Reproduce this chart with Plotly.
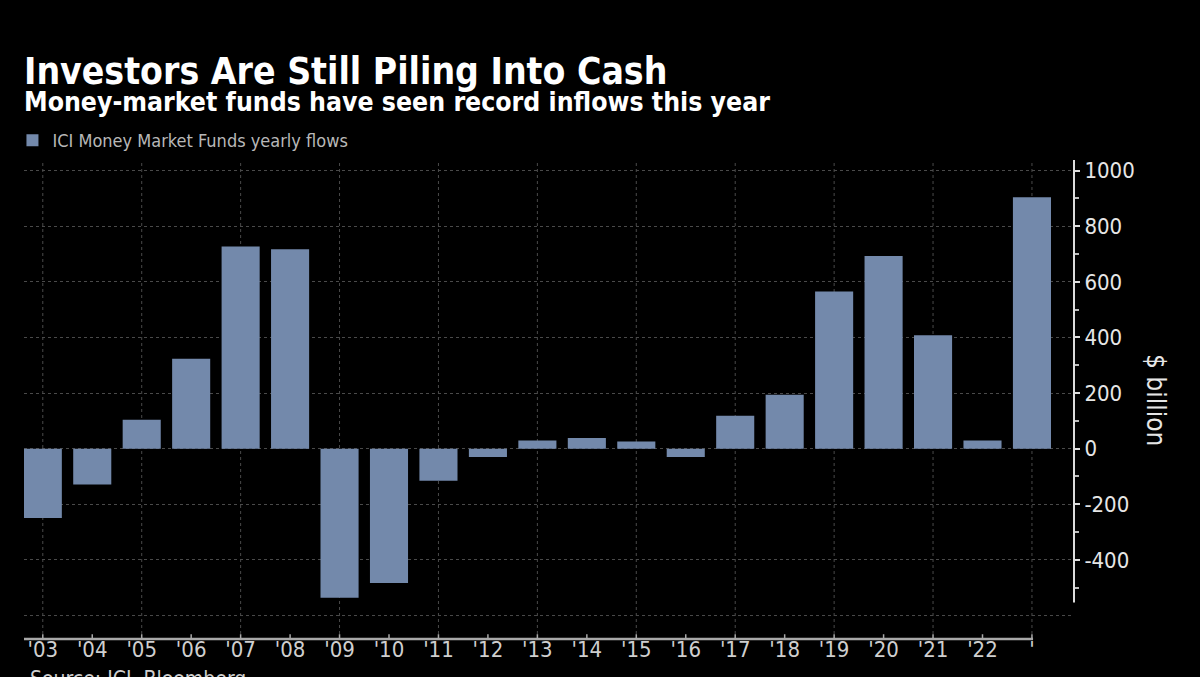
import plotly.graph_objects as go

years = list(range(2003, 2024))
tick_labels = ["'03", "'04", "'05", "'06", "'07", "'08", "'09", "'10", "'11", "'12",
               "'13", "'14", "'15", "'16", "'17", "'18", "'19", "'20", "'21", "'22", "'"]
flows = [-249, -129, 104, 323, 727, 717, -536, -483, -115, -30,
         29, 38, 26, -30, 118, 194, 565, 693, 408, 29, 904]
y_ticks = [-400, -200, 0, 200, 400, 600, 800, 1000]
y_tick_text = ["-400", "-200", "0", "200", "400", "600", "800", "1000"]
y_minor = [-500, -300, -100, 100, 300, 500, 700, 900]
grid_years = years[::2]

FONT = "DejaVu Sans Condensed, Liberation Sans Narrow, Arial Narrow, sans-serif"
BAR = "#7389ab"
GRID = "#4a4a4a"

fig = go.Figure()
fig.add_trace(go.Bar(
    x=years, y=flows, width=0.77, marker=dict(color=BAR, line=dict(width=0)),
    name="ICI Money Market Funds yearly flows", showlegend=True,
))

shapes = []
for yr in grid_years:
    shapes.append(dict(type="line", xref="x", yref="paper", x0=yr, x1=yr, y0=0, y1=1,
                       line=dict(color=GRID, width=1, dash="dot"), layer="below"))
shapes.append(dict(type="line", xref="paper", yref="y", x0=0, x1=1, y0=-600, y1=-600,
                   line=dict(color=GRID, width=1, dash="dot"), layer="below"))
# x axis baseline
shapes.append(dict(type="line", xref="paper", yref="paper", x0=0, x1=0.961, y0=0.002, y1=0.002,
                   line=dict(color="#a8a8a8", width=2.5), layer="above"))
# small ticks on x axis baseline
for yr in years:
    shapes.append(dict(type="line", xref="x", yref="paper", x0=yr, x1=yr, y0=0.002, y1=0.012,
                       line=dict(color="#a8a8a8", width=1.5), layer="above"))
# y axis line (right)
shapes.append(dict(type="line", xref="paper", yref="y", x0=1, x1=1, y0=-553, y1=1038,
                   line=dict(color="#dddddd", width=2), layer="above"))

fig.update_layout(
    width=1200, height=677,
    paper_bgcolor="#000000", plot_bgcolor="#000000",
    margin=dict(l=24, r=126, t=160, b=37, autoexpand=False),
    font=dict(family=FONT, color="#dddddd"),
    shapes=shapes,
    showlegend=True,
    legend=dict(x=-0.011, y=1 + (160 - 140.5) / 480, xanchor="left", yanchor="middle", orientation="h",
                font=dict(family=FONT, size=18, color="#b8b8b8"),
                bgcolor="rgba(0,0,0,0)", itemwidth=30),
    xaxis=dict(range=[2002.62, 2023.85], tickmode="array", tickvals=years, ticktext=tick_labels,
               showgrid=False, zeroline=False, showline=False, ticks="",
               automargin=False, ticklabelstandoff=-6,
               tickfont=dict(family=FONT, size=22, color="#cfcfcf")),
    yaxis=dict(side="right", range=[-688, 1038], tickmode="array", tickvals=y_ticks,
               ticktext=y_tick_text, showgrid=True, gridcolor=GRID, griddash="dot", gridwidth=1,
               zeroline=False, showline=False, ticks="outside", ticklen=5, tickwidth=2,
               tickcolor="#dddddd", automargin=False,
               tickfont=dict(family=FONT, size=22, color="#e6e6e6"),
               minor=dict(tickmode="array", tickvals=y_minor, ticks="outside", ticklen=4,
                          tickwidth=2, tickcolor="#bbbbbb", showgrid=False)),
    annotations=[
        dict(text="<b>Investors Are Still Piling Into Cash</b>", xref="paper", yref="paper",
             x=-0.002, y=1 + (160 - 95) / 480, xanchor="left", yanchor="bottom",
             showarrow=False, font=dict(family=FONT, size=37, color="#ffffff")),
        dict(text="<b>Money-market funds have seen record inflows this year</b>", xref="paper", yref="paper",
             x=-0.002, y=1 + (160 - 119) / 480, xanchor="left", yanchor="bottom",
             showarrow=False, font=dict(family=FONT, size=26.4, color="#ffffff")),
        dict(text="$ billion", xref="paper", yref="paper", x=1 + (1156 - 1074) / 1050, y=(640 - 400) / 480,
             xanchor="center", yanchor="middle", textangle=90, showarrow=False,
             font=dict(family=FONT, size=26, color="#e6e6e6")),
        dict(text="Source: ICI, Bloomberg", xref="paper", yref="paper", x=0.004, y=-(665 - 640) / 480,
             xanchor="left", yanchor="top", showarrow=False,
             font=dict(family=FONT, size=21, color="#d0d0d0")),
    ],
)

fig.write_html("out.html", config={"displayModeBar": False},
               post_script="document.body.style.margin='0';document.body.style.overflow='hidden';")
